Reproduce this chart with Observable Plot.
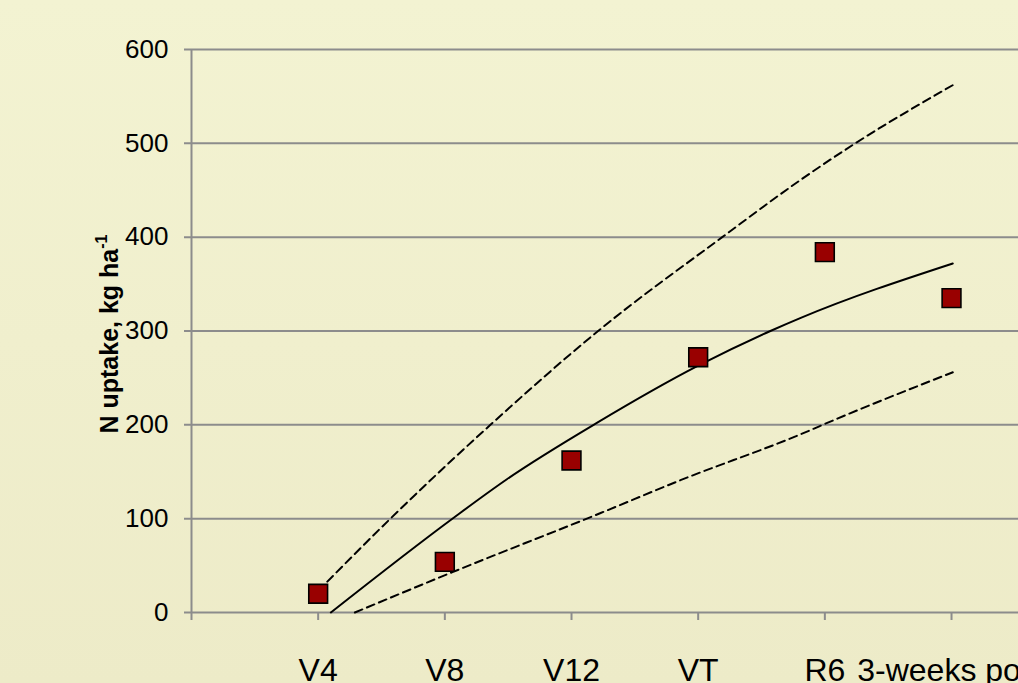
<!DOCTYPE html>
<html>
<head>
<meta charset="utf-8">
<script src="https://cdn.jsdelivr.net/npm/d3@7"></script>
<script src="https://cdn.jsdelivr.net/npm/@observablehq/plot@0.6"></script>
<style>
  html, body { margin: 0; padding: 0; overflow: hidden; }
  body { width: 1018px; height: 683px; background: linear-gradient(#f3f3d2, #edebc8); font-family: "Liberation Sans", Arial, sans-serif; }
  #chart svg { overflow: visible; }
</style>
</head>
<body>
<div id="chart"></div>
<script>
// Growth stages (x positions 1..6 on the category axis; 0 is the empty origin)
const stages = ["V4", "V8", "V12", "VT", "R6", "3-weeks post"];
const stageX = [1, 2, 3, 4, 5, 6];
// Measured N uptake, kg ha-1
const uptake = [20, 54, 162, 272, 384, 335];

// Fitted curve (solid)
const fitX = [1.10, 2.07, 2.49, 3.20, 4.00, 4.57, 4.81, 6.01];
const fitY = [0, 101, 142, 202, 263, 300, 314, 372];
// Upper bound (dashed)
const upX = [1.00, 1.57, 2.36, 3.21, 4.19, 4.84, 5.24, 6.01];
const upY = [23, 100, 200, 300, 400, 464, 500, 562];
// Lower bound (dashed)
const loX = [1.29, 2.06, 3.23, 3.86, 4.81, 5.07, 6.01];
const loY = [0, 43, 106, 141, 190, 205, 256];

const yTicks = [0, 100, 200, 300, 400, 500, 600];
const xTicks = [0, 1, 2, 3, 4, 5, 6];
const xLabels = ["", ...stages];

const points = stageX.map((x, i) => ({x, y: uptake[i], stage: stages[i]}));
const fit = fitX.map((x, i) => ({x, y: fitY[i]}));
const up = upX.map((x, i) => ({x, y: upY[i]}));
const lo = loX.map((x, i) => ({x, y: loY[i]}));

const chart = Plot.plot({
  width: 1018,
  height: 683,
  marginTop: 49,
  marginBottom: 71,
  marginLeft: 191,
  marginRight: 0,
  style: {background: "transparent", fontFamily: "Liberation Sans, Arial, sans-serif", color: "#000", overflow: "visible"},
  x: {type: "linear", domain: [0, 827 / 126.67], axis: null},
  y: {type: "linear", domain: [0, 600], axis: null},
  marks: [
    Plot.ruleY(yTicks, {stroke: "#8c8c8c", strokeWidth: 2, insetLeft: -7}),
    Plot.ruleX([0], {y1: 0, y2: 600, stroke: "#8c8c8c", strokeWidth: 2}),
    Plot.axisY({ticks: yTicks, tickSize: 0, tickPadding: 23, fontSize: 26, label: null}),
    Plot.axisX({ticks: xTicks, tickSize: 8, tickPadding: 38, fontSize: 32, label: null, stroke: "#8c8c8c", strokeWidth: 2, tickFormat: (d) => xLabels[d]}),
    Plot.line(up, {x: "x", y: "y", curve: "monotone-x", stroke: "#000", strokeWidth: 2, strokeDasharray: "8,5"}),
    Plot.line(lo, {x: "x", y: "y", curve: "monotone-x", stroke: "#000", strokeWidth: 2, strokeDasharray: "8,5"}),
    Plot.line(fit, {x: "x", y: "y", curve: "monotone-x", stroke: "#000", strokeWidth: 2}),
    Plot.dot(points, {x: "x", y: "y", symbol: "square", r: 10.6, fill: "#990000", stroke: "#000", strokeWidth: 1.6})
  ]
});
document.getElementById("chart").appendChild(chart);

// Y axis title with superscript
const svg = d3.select(chart);
const t = svg.append("text")
  .attr("transform", "translate(118,334) rotate(-90)")
  .attr("text-anchor", "middle")
  .attr("font-family", "Liberation Sans, Arial, sans-serif")
  .attr("font-weight", "bold")
  .attr("font-size", 25)
  .attr("fill", "#000");
t.append("tspan").text("N uptake, kg ha");
t.append("tspan").attr("font-size", 16).attr("dy", "-0.7em").text("-1");
</script>
</body>
</html>
